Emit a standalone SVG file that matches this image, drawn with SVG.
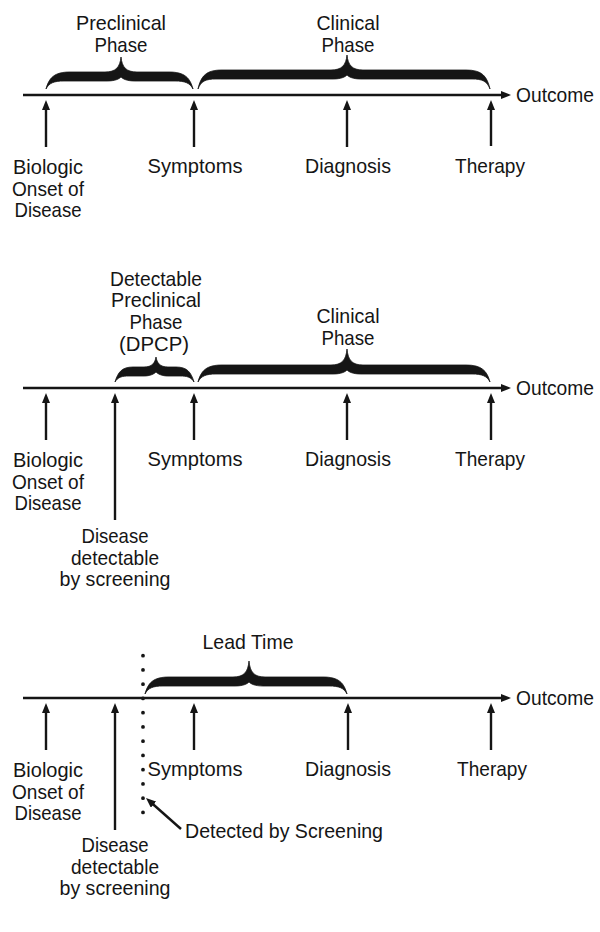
<svg xmlns="http://www.w3.org/2000/svg" width="600" height="932" viewBox="0 0 600 932">
<style>
  text { font-family: "Liberation Sans", Arial, sans-serif; font-size: 21px; fill: #151515; }
  .m { text-anchor: middle; }
  .axis { stroke: #151515; stroke-width: 2.6; fill: none; marker-end: url(#ah); }
  .up { stroke: #151515; stroke-width: 2.4; fill: none; marker-end: url(#ah); }
  .brace { fill: #151515; stroke: #151515; stroke-width: 0.8; }
  .dots { stroke: #151515; stroke-width: 3.8; stroke-linecap: round; stroke-dasharray: 0 14.25; fill: none; }
</style>
<defs>
  <marker id="ah" viewBox="0 0 10 8" markerWidth="10" markerHeight="8" refX="4" refY="4" orient="auto" markerUnits="userSpaceOnUse">
    <path d="M0,0 L10,4 L0,8 z" fill="#151515"/>
  </marker>
</defs>
<rect width="600" height="932" fill="#ffffff"/>

<g id="connectors">
  <!-- panel 1 -->
  <line class="axis" x1="23" y1="95" x2="505" y2="95"/>
  <line class="up" x1="46" y1="147" x2="46" y2="106"/>
  <line class="up" x1="194" y1="147" x2="194" y2="106"/>
  <line class="up" x1="347" y1="147" x2="347" y2="106"/>
  <line class="up" x1="491" y1="146" x2="491" y2="106"/>
  <!-- panel 2 -->
  <line class="axis" x1="23" y1="388" x2="505" y2="388"/>
  <line class="up" x1="46" y1="440" x2="46" y2="399"/>
  <line class="up" x1="115" y1="520" x2="115" y2="399"/>
  <line class="up" x1="194" y1="440" x2="194" y2="399"/>
  <line class="up" x1="347" y1="440" x2="347" y2="399"/>
  <line class="up" x1="491" y1="440" x2="491" y2="399"/>
  <!-- panel 3 -->
  <line class="axis" x1="23" y1="698" x2="505" y2="698"/>
  <line class="up" x1="46" y1="750" x2="46" y2="709"/>
  <line class="up" x1="115" y1="830" x2="115" y2="709"/>
  <line class="up" x1="194" y1="750" x2="194" y2="709"/>
  <line class="up" x1="348" y1="750" x2="348" y2="709"/>
  <line class="up" x1="491" y1="750" x2="491" y2="709"/>
  <line class="dots" x1="143" y1="655.7" x2="143" y2="826.7"/>
  <line class="up" x1="181" y1="829" x2="150.5" y2="802"/>
</g>

<!-- Panel 1 -->
<g id="p1-preclinical">
  <path class="brace" d="M46,89 C49,78 54,72 70,72 L105,72 C116,72 120,67 121,57 C122,67 126,72 137,72 L169,72 C185,72 190,78 193,89 C190,83 185,81 175,81 L135,81 C127,81 123,79 121,77 C119,79 115,81 107,81 L64,81 C54,81 49,83 46,89 Z"/>
  <text class="m" x="121" y="30" textLength="90" lengthAdjust="spacingAndGlyphs">Preclinical</text>
  <text class="m" x="121" y="52" textLength="53" lengthAdjust="spacingAndGlyphs">Phase</text>
</g>
<g id="p1-clinical">
  <path class="brace" d="M198,89 C201,76 206,70 222,70 L331,70 C342,70 346,65 347,55 C348,65 352,70 363,70 L466,70 C482,70 487,76 490,89 C487,81 482,79 472,79 L361,79 C353,79 349,77 347,75 C345,77 341,79 333,79 L216,79 C206,79 201,81 198,89 Z"/>
  <text class="m" x="348" y="30" textLength="63" lengthAdjust="spacingAndGlyphs">Clinical</text>
  <text class="m" x="348" y="52" textLength="53" lengthAdjust="spacingAndGlyphs">Phase</text>
</g>
<g id="p1-outcome"><text x="516" y="102" textLength="78" lengthAdjust="spacingAndGlyphs">Outcome</text></g>
<g id="p1-onset">
  <text class="m" x="48" y="174" textLength="70" lengthAdjust="spacingAndGlyphs">Biologic</text>
  <text class="m" x="48" y="195.5" textLength="72" lengthAdjust="spacingAndGlyphs">Onset of</text>
  <text class="m" x="48" y="217" textLength="67" lengthAdjust="spacingAndGlyphs">Disease</text>
</g>
<g id="p1-symptoms"><text class="m" x="195" y="173" textLength="95" lengthAdjust="spacingAndGlyphs">Symptoms</text></g>
<g id="p1-diagnosis"><text class="m" x="348" y="173" textLength="86" lengthAdjust="spacingAndGlyphs">Diagnosis</text></g>
<g id="p1-therapy"><text class="m" x="490" y="173" textLength="70" lengthAdjust="spacingAndGlyphs">Therapy</text></g>

<!-- Panel 2 -->
<g id="p2-dpcp">
  <path class="brace" d="M115,382 C118,372 122,367 133,367 L144,367 C152,367 155,363 156,357 C157,363 160,367 168,367 L176,367 C187,367 191,372 194,382 C191,377 187,376 180,376 L168,376 C162,376 158,374 156,372 C154,374 150,376 144,376 L129,376 C122,376 118,377 115,382 Z"/>
  <text class="m" x="156" y="285.5" textLength="92" lengthAdjust="spacingAndGlyphs">Detectable</text>
  <text class="m" x="156" y="307" textLength="90" lengthAdjust="spacingAndGlyphs">Preclinical</text>
  <text class="m" x="156" y="328.5" textLength="53" lengthAdjust="spacingAndGlyphs">Phase</text>
  <text class="m" x="154" y="350.5" textLength="70" lengthAdjust="spacingAndGlyphs">(DPCP)</text>
</g>
<g id="p2-clinical">
  <path class="brace" d="M198,382 C201,371 206,365 222,365 L331,365 C342,365 346,360 347,349 C348,360 352,365 363,365 L466,365 C482,365 487,371 490,382 C487,376 482,374 472,374 L361,374 C353,374 349,372 347,370 C345,372 341,374 333,374 L216,374 C206,374 201,376 198,382 Z"/>
  <text class="m" x="348" y="323" textLength="63" lengthAdjust="spacingAndGlyphs">Clinical</text>
  <text class="m" x="348" y="345" textLength="53" lengthAdjust="spacingAndGlyphs">Phase</text>
</g>
<g id="p2-outcome"><text x="516" y="395" textLength="78" lengthAdjust="spacingAndGlyphs">Outcome</text></g>
<g id="p2-onset">
  <text class="m" x="48" y="467" textLength="70" lengthAdjust="spacingAndGlyphs">Biologic</text>
  <text class="m" x="48" y="488.5" textLength="72" lengthAdjust="spacingAndGlyphs">Onset of</text>
  <text class="m" x="48" y="510" textLength="67" lengthAdjust="spacingAndGlyphs">Disease</text>
</g>
<g id="p2-detectable">
  <text class="m" x="115" y="543" textLength="67" lengthAdjust="spacingAndGlyphs">Disease</text>
  <text class="m" x="115" y="564.5" textLength="88" lengthAdjust="spacingAndGlyphs">detectable</text>
  <text class="m" x="115" y="586" textLength="111" lengthAdjust="spacingAndGlyphs">by screening</text>
</g>
<g id="p2-symptoms"><text class="m" x="195" y="466" textLength="95" lengthAdjust="spacingAndGlyphs">Symptoms</text></g>
<g id="p2-diagnosis"><text class="m" x="348" y="466" textLength="86" lengthAdjust="spacingAndGlyphs">Diagnosis</text></g>
<g id="p2-therapy"><text class="m" x="490" y="466" textLength="70" lengthAdjust="spacingAndGlyphs">Therapy</text></g>

<!-- Panel 3 -->
<g id="p3-leadtime">
  <path class="brace" d="M145,694 C148,683 153,677 169,677 L233,677 C244,677 248,672 249,661 C250,672 254,677 265,677 L323,677 C339,677 344,683 347,694 C344,688 339,686 329,686 L263,686 C255,686 251,684 249,682 C247,684 243,686 235,686 L163,686 C153,686 148,688 145,694 Z"/>
  <text class="m" x="248" y="649" textLength="91" lengthAdjust="spacingAndGlyphs">Lead Time</text>
</g>
<g id="p3-outcome"><text x="516" y="705" textLength="78" lengthAdjust="spacingAndGlyphs">Outcome</text></g>
<g id="p3-onset">
  <text class="m" x="48" y="777" textLength="70" lengthAdjust="spacingAndGlyphs">Biologic</text>
  <text class="m" x="48" y="798.5" textLength="72" lengthAdjust="spacingAndGlyphs">Onset of</text>
  <text class="m" x="48" y="820" textLength="67" lengthAdjust="spacingAndGlyphs">Disease</text>
</g>
<g id="p3-detectable">
  <text class="m" x="115" y="852" textLength="67" lengthAdjust="spacingAndGlyphs">Disease</text>
  <text class="m" x="115" y="873.5" textLength="88" lengthAdjust="spacingAndGlyphs">detectable</text>
  <text class="m" x="115" y="895" textLength="111" lengthAdjust="spacingAndGlyphs">by screening</text>
</g>
<g id="p3-symptoms"><text class="m" x="195" y="776" textLength="95" lengthAdjust="spacingAndGlyphs">Symptoms</text></g>
<g id="p3-diagnosis"><text class="m" x="348" y="776" textLength="86" lengthAdjust="spacingAndGlyphs">Diagnosis</text></g>
<g id="p3-therapy"><text class="m" x="492" y="776" textLength="70" lengthAdjust="spacingAndGlyphs">Therapy</text></g>
<g id="p3-detected"><text x="185" y="838" textLength="198" lengthAdjust="spacingAndGlyphs">Detected by Screening</text></g>
</svg>
